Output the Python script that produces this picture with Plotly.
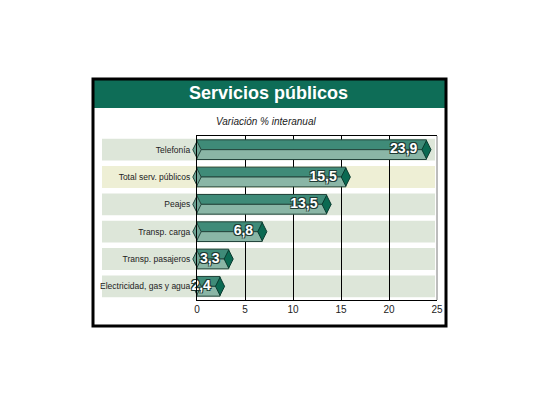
import plotly.graph_objects as go

categories = ["Telefonía", "Total serv. públicos", "Peajes", "Transp. carga",
              "Transp. pasajeros", "Electricidad, gas y agua"]
values = [23.9, 15.5, 13.5, 6.8, 3.3, 2.4]
band_colors = ["#dde6d9", "#eeefd5", "#dde6d9", "#dde6d9", "#dde6d9", "#dde6d9"]
x_ticks = [0, 5, 10, 15, 20, 25]

idx = list(range(len(categories)))

L, R, T, B = 197, 103, 136, 105
W, H = 540, 405
pw, ph = W - L - R, H - T - B


def px_x(X):
    return (X - L) / pw


def px_y(Y):
    return (H - B - Y) / ph


fig = go.Figure()

# left chevron ends
fig.add_trace(go.Scatter(
    x=[0] * len(values), y=idx, mode="markers",
    marker=dict(symbol="diamond-tall", size=12, color="#6fa595",
                line=dict(color="#24463d", width=1)),
    cliponaxis=False, hoverinfo="skip", showlegend=False))

# two-tone bars
fig.add_trace(go.Bar(
    x=values, y=idx, orientation="h", offset=-0.36, width=0.36,
    marker=dict(color="#3f8b78", line=dict(color="#24463d", width=1)),
    hoverinfo="skip", showlegend=False))
fig.add_trace(go.Bar(
    x=values, y=idx, orientation="h", offset=0.0, width=0.36,
    marker=dict(color="#8ab6a6", line=dict(color="#24463d", width=1)),
    hoverinfo="skip", showlegend=False))

# right diamonds + value labels
fig.add_trace(go.Scatter(
    x=values, y=idx, mode="markers+text",
    marker=dict(symbol="diamond-tall", size=13, color="#0b6a52",
                line=dict(color="#0a3b2f", width=1)),
    texttemplate="%{x:.1f}", textposition="middle left",
    textfont=dict(family="Liberation Sans, Arial", size=14, color="white",
                  weight="bold",
                  shadow="-1px -1px 0 #1e3a33, 1px -1px 0 #1e3a33, -1px 1px 0 #1e3a33, 1px 1px 0 #1e3a33"),
    cliponaxis=False, hoverinfo="skip", showlegend=False))

shapes = []
# outer header band
shapes.append(dict(type="rect", xref="paper", yref="paper",
                   x0=px_x(93), x1=px_x(446), y0=px_y(108), y1=px_y(80),
                   fillcolor="#0e6d57", line=dict(width=0), layer="below"))
# outer frame
shapes.append(dict(type="rect", xref="paper", yref="paper",
                   x0=px_x(93), x1=px_x(446), y0=px_y(326), y1=px_y(79),
                   fillcolor="rgba(0,0,0,0)", line=dict(color="black", width=3),
                   layer="above"))
# row bands
for i, c in zip(idx, band_colors):
    shapes.append(dict(type="rect", xref="paper", yref="y",
                       x0=px_x(102), x1=px_x(435), y0=i - 0.4, y1=i + 0.4,
                       fillcolor=c, line=dict(width=0), layer="below"))
# right border of plot (grey)
shapes.append(dict(type="line", xref="paper", yref="paper",
                   x0=1, x1=1, y0=0, y1=1,
                   line=dict(color="#7a7a7a", width=1), layer="above"))

fig.update_layout(
    width=W, height=H,
    margin=dict(l=L, r=R, t=T, b=B),
    paper_bgcolor="white", plot_bgcolor="rgba(0,0,0,0)",
    separators=",.",
    barmode="overlay",
    shapes=shapes,
    font=dict(family="Liberation Sans, Arial", color="#222222"),
    xaxis=dict(range=[0, 25], tickvals=x_ticks, ticktext=[str(v) for v in x_ticks],
               showgrid=True, gridcolor="black", gridwidth=1,
               showline=True, linecolor="black", linewidth=1, mirror=True,
               zeroline=False, ticks="", tickfont=dict(size=10, color="#222"),
               fixedrange=True),
    yaxis=dict(range=[5.5, -0.5], tickvals=idx, ticktext=categories,
               showgrid=False, showline=True, linecolor="black", linewidth=1,
               zeroline=False, ticks="", ticklabelstandoff=4,
               tickfont=dict(size=8.5, color="#222"),
               fixedrange=True),
    annotations=[
        dict(text="<b>Servicios públicos</b>", xref="paper", yref="paper",
             x=px_x(268), y=px_y(93), xanchor="center", yanchor="middle",
             showarrow=False,
             font=dict(size=18, color="white", family="Liberation Sans, Arial")),
        dict(text="<i>Variación % interanual</i>", xref="paper", yref="paper",
             x=px_x(266), y=px_y(122), xanchor="center", yanchor="middle",
             showarrow=False,
             font=dict(size=10, color="#222", family="Liberation Sans, Arial")),
    ],
)

fig.write_html("out.html")
